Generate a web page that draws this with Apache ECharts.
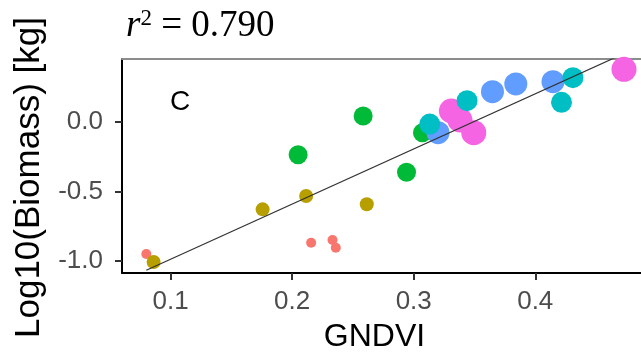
<!DOCTYPE html>
<html>
<head>
<meta charset="utf-8">
<script src="https://cdn.jsdelivr.net/npm/echarts@6/dist/echarts.min.js"></script>
<style>
  html, body { margin: 0; padding: 0; background: #fff; }
  #chart { width: 641px; height: 358px; }
</style>
</head>
<body>
<div id="chart"></div>
<script>
// Sampling groups: [GNDVI, log10 biomass]
const groupNames = ['G1', 'G2', 'G3', 'G4', 'G5', 'G6'];
const groupRed = [[0.080, -0.950], [0.2156, -0.869], [0.2332, -0.849], [0.2359, -0.905]];
const groupOlive = [[0.086, -1.007], [0.1757, -0.629], [0.2115, -0.533], [0.2614, -0.593]];
const groupGreen = [[0.2049, -0.237], [0.2584, 0.041], [0.2941, -0.363], [0.3072, -0.079]];
const groupBlue = [[0.320, -0.079], [0.3648, 0.215], [0.384, 0.271], [0.4146, 0.287]];
const groupMagenta = [[0.331, 0.077], [0.338, 0.012], [0.3494, -0.079], [0.4730, 0.376]];
const groupCyan = [[0.3132, -0.017], [0.3439, 0.151], [0.4216, 0.139], [0.431, 0.316]];

// Linear fit endpoints over the GNDVI range
const fitLine = [[0.080, -1.066], [0.473, 0.489]];

const xTicks = [0.1, 0.2, 0.3, 0.4];
const yTicks = [-1.0, -0.5, 0.0];
const r2Text = '0.790';
const panelTag = 'C';

const chart = echarts.init(document.getElementById('chart'), null, { renderer: 'canvas' });

function pointSeries(name, data, color, size) {
  return {
    name: name,
    type: 'scatter',
    data: data,
    symbol: 'circle',
    symbolSize: size,
    itemStyle: { color: color, opacity: 1 },
    emphasis: { disabled: true },
    silent: true
  };
}

const serif = 'Liberation Serif';

const option = {
  animation: false,
  backgroundColor: '#ffffff',
  title: [
    {
      left: 121,
      top: 2,
      text: '{i|r}{s|2}{n| = ' + r2Text + '}',
      textStyle: {
        fontWeight: 'normal',
        rich: {
          i: { fontFamily: serif, fontStyle: 'italic', fontWeight: 'normal', fontSize: 37, color: '#000' },
          s: { fontFamily: serif, fontWeight: 'normal', fontSize: 23, color: '#000', verticalAlign: 'top', padding: [0, 0, 16, 0] },
          n: { fontFamily: serif, fontWeight: 'normal', fontSize: 37, color: '#000' }
        }
      }
    },
    {
      left: 165,
      top: 83,
      text: panelTag,
      textStyle: { fontFamily: 'Liberation Sans', fontSize: 28, fontWeight: 'normal', color: '#000' }
    }
  ],
  grid: { left: 122, top: 59, right: 0, bottom: 85 },
  xAxis: [
    {
      type: 'value',
      min: 0.06,
      max: 0.487,
      name: 'GNDVI',
      nameLocation: 'middle',
      nameGap: 48,
      nameTextStyle: { fontFamily: 'Liberation Sans', fontSize: 32, color: '#000', padding: [0, 14, 0, 0] },
      axisLine: { show: true, onZero: false, lineStyle: { color: '#000', width: 2 } },
      axisTick: { show: true, length: 7, customValues: xTicks, lineStyle: { color: '#333', width: 2 } },
      axisLabel: {
        customValues: xTicks,
        margin: 16,
        fontFamily: 'Liberation Sans',
        fontSize: 26,
        color: '#4d4d4d',
        formatter: v => v.toFixed(1)
      },
      splitLine: { show: false }
    },
    {
      type: 'value',
      position: 'top',
      min: 0.06,
      max: 0.487,
      axisLine: { show: true, onZero: false, lineStyle: { color: '#8c8c8c', width: 2 } },
      axisTick: { show: false },
      axisLabel: { show: false },
      splitLine: { show: false }
    }
  ],
  yAxis: {
    type: 'value',
    min: -1.086,
    max: 0.45,
    name: 'Log10(Biomass) [kg]',
    nameLocation: 'middle',
    nameGap: 70,
    nameTextStyle: { fontFamily: 'Liberation Sans', fontSize: 35, color: '#000', padding: [0, 23, 0, 0] },
    axisLine: { show: true, onZero: false, lineStyle: { color: '#000', width: 2 } },
    axisTick: { show: true, length: 7, customValues: yTicks, lineStyle: { color: '#333', width: 2 } },
    axisLabel: {
      customValues: yTicks,
      margin: 19,
      fontFamily: 'Liberation Sans',
      fontSize: 26,
      color: '#4d4d4d',
      formatter: v => v.toFixed(1)
    },
    splitLine: { show: false }
  },
  series: [
    pointSeries(groupNames[0], groupRed, '#F8766D', 10),
    pointSeries(groupNames[1], groupOlive, '#B79F00', 14),
    pointSeries(groupNames[2], groupGreen, '#00BA38', 19),
    pointSeries(groupNames[4], groupBlue, '#619CFF', 23),
    pointSeries(groupNames[5], groupMagenta, '#F564E3', 25),
    pointSeries(groupNames[3], groupCyan, '#00BFC4', 21),
    {
      name: 'fit',
      type: 'line',
      data: fitLine,
      clip: true,
      symbol: 'none',
      lineStyle: { color: '#333', width: 1.2 },
      silent: true,
      z: 5
    }
  ]
};

chart.setOption(option);
</script>
</body>
</html>
